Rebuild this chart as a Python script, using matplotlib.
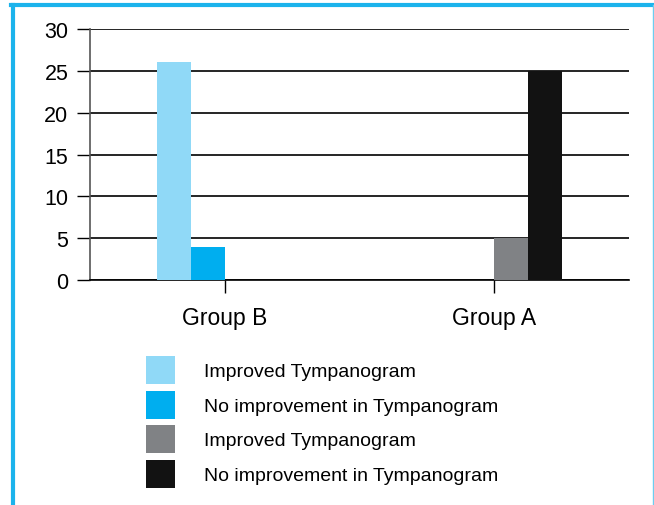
import matplotlib
matplotlib.use("Agg")
import numpy as np
import matplotlib.pyplot as plt
from matplotlib.lines import Line2D

# data
groups = ["Group B", "Group A"]
series_labels = ["Improved Tympanogram", "No improvement in Tympanogram",
                 "Improved Tympanogram", "No improvement in Tympanogram"]
improved_b = [26, 0]
no_improve_b = [4, 0]
improved_a = [0, 5]
no_improve_a = [0, 25]
y_ticks = [0, 5, 10, 15, 20, 25, 30]

series = [improved_b, no_improve_b, improved_a, no_improve_a]
colors = ["#90D9F7", "#00AEEF", "#808285", "#121212"]

plt.rcParams["font.family"] = ["Liberation Sans", "DejaVu Sans"]

W, H = 654, 506
fig = plt.figure(figsize=(W / 100, H / 100), dpi=100)
ax = fig.add_axes([90 / W, 1 - 281 / H, 539 / W, 251 / H])

x = np.arange(len(groups))
width = 0.126
offsets = [-1.5, -0.5, 0.5, 1.5]
handles = []
for vals, off, col, lab in zip(series, offsets, colors, series_labels):
    b = ax.bar(x + off * width, vals, width, color=col, label=lab,
               edgecolor="none", zorder=3)
    handles.append(b)

ax.set_xlim(-0.5, 1.5)
ax.set_ylim(0, 30)
ax.set_yticks(y_ticks)
ax.set_xticks(x)
ax.set_xticklabels(groups, fontsize=16.5)
ax.tick_params(axis="x", length=9.5, width=1, direction="out", pad=9, color="black")
ax.tick_params(axis="y", length=9.5, width=1, direction="out", labelsize=15.5, pad=6)
ax.yaxis.grid(True, color="black", linewidth=1.2, zorder=0)
ax.set_axisbelow(True)

for s in ["top", "right"]:
    ax.spines[s].set_visible(False)
ax.spines["left"].set_color("#555555")
ax.spines["left"].set_linewidth(1.2)
ax.spines["bottom"].set_linewidth(1.2)

# legend below the plot, squares ~29x28 px
legend_size = 14
fs_px = legend_size * 100 / 72
# matplotlib takes a descent off the handle height, so undo that here
hh = (28 / fs_px - 0.245) / 0.65
fig.legend(handles=handles, labels=series_labels, loc="upper left",
           bbox_to_anchor=(146 / W, 1 - 357 / H), frameon=False,
           fontsize=legend_size, handlelength=29 / fs_px, handleheight=hh,
           handletextpad=29 / fs_px, labelspacing=6.5 / fs_px,
           borderpad=0, borderaxespad=0)

# cyan frame
frame = "#1CB3EC"
fig.add_artist(Line2D([12.5 / W, 12.5 / W], [0, 1 - 5.5 / H], color=frame, lw=3, transform=fig.transFigure))
fig.add_artist(Line2D([11 / W, 654 / W], [1 - 5.5 / H, 1 - 5.5 / H], color=frame, lw=3, transform=fig.transFigure))
fig.add_artist(Line2D([653 / W, 653 / W], [0, 1 - 5.5 / H], color="#6CCDF0", lw=1, transform=fig.transFigure))

plt.savefig("out.png", dpi=100)
